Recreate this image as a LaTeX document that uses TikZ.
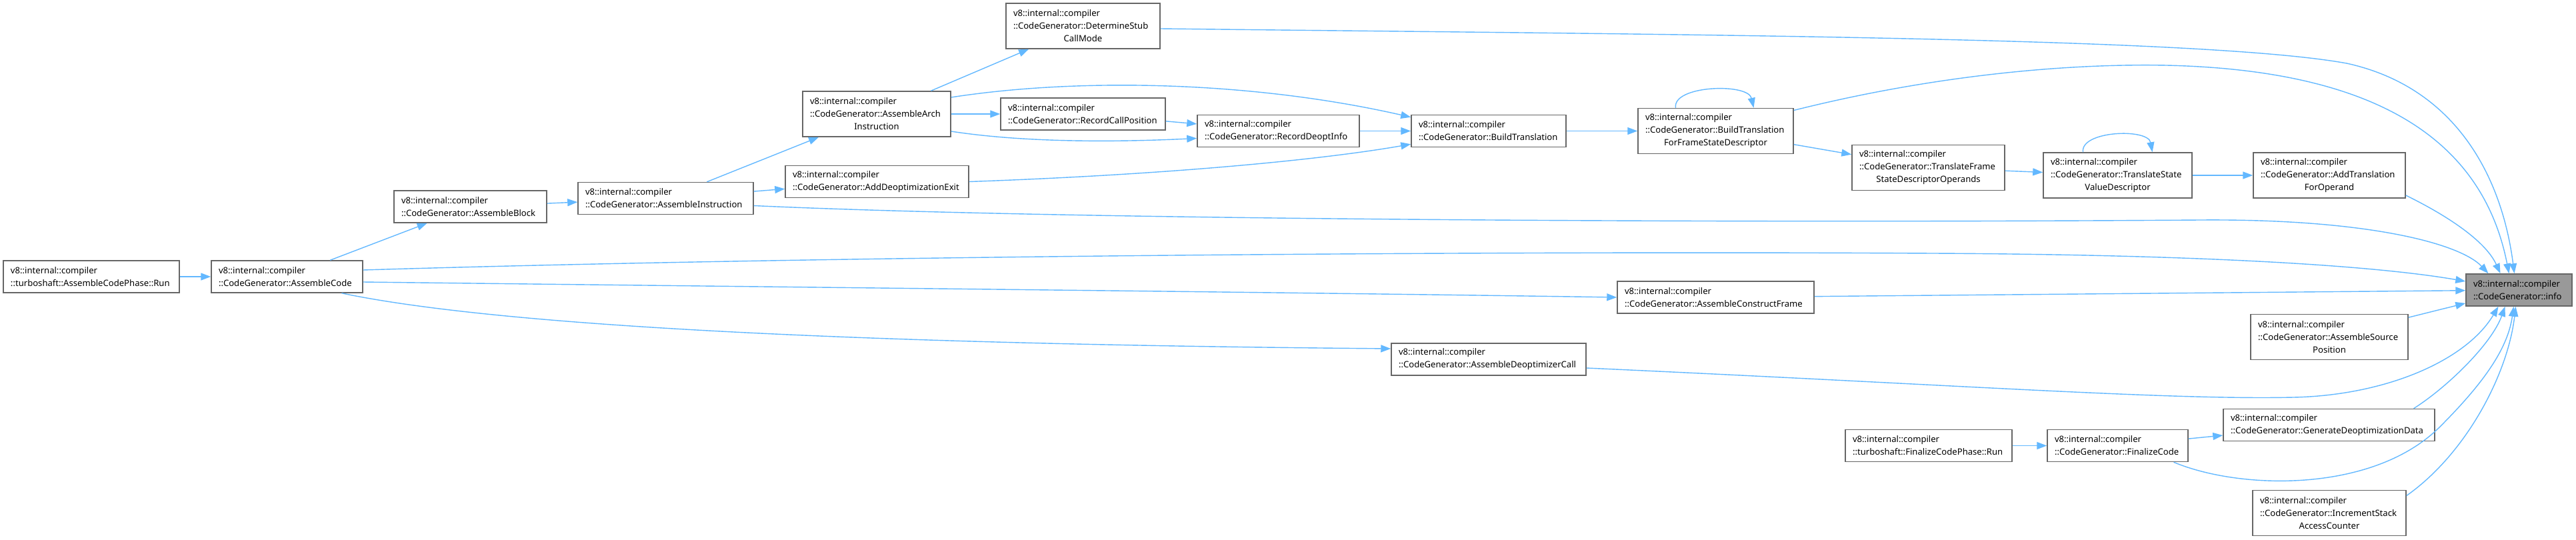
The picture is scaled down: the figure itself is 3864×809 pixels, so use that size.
\documentclass[tikz,border=0pt]{standalone}
\usepackage{fontspec}
\setmainfont{Noto Sans}
\usetikzlibrary{arrows.meta}
\definecolor{edgeblue}{HTML}{63B8FF}
\definecolor{boxgray}{HTML}{666666}
\definecolor{hlgray}{HTML}{999999}
\hyphenpenalty=10000
\newcommand{\centerpart}[1]{\hspace*{\fill}#1\hspace*{\fill}\mbox{}}
\begin{document}
\begin{tikzpicture}[
    x=1pt, y=-1pt,
    every node/.style={font=\fontsize{13.1}{19}\selectfont, align=left},
    fn/.style={rectangle, draw=boxgray, line width=1.5pt, fill=white,
               inner xsep=11pt, inner ysep=0pt, minimum height=48pt},
    fnl/.style={fn, minimum height=68pt},
    hl/.style={fn, fill=hlgray},
    arr/.style={-{Triangle[length=15pt, width=11pt]}, line width=1.4pt, edgeblue},
]
\useasboundingbox (0, 0) rectangle (3864, 809);
\node[fn, text width=242pt]  (runAsm)       at (137, 415)    {v8::internal::compiler\\::turboshaft::AssembleCodePhase::Run};
\node[fn, text width=205pt]  (asmCode)      at (430.5, 415)  {v8::internal::compiler\\::CodeGenerator::AssembleCode};
\node[fn, text width=207pt]  (asmBlock)     at (705.5, 310)  {v8::internal::compiler\\::CodeGenerator::AssembleBlock};
\node[fn, text width=241pt]  (asmInstr)     at (998.5, 297.5) {v8::internal::compiler\\::CodeGenerator::AssembleInstruction};
\node[fnl, text width=200pt] (asmArch)      at (1315, 171)   {v8::internal::compiler\\::CodeGenerator::AssembleArch\\\centerpart{Instruction}};
\node[fnl, text width=209pt] (stubMode)     at (1624.5, 39)  {v8::internal::compiler\\::CodeGenerator::DetermineStub\\\centerpart{CallMode}};
\node[fn, text width=225pt]  (recCall)      at (1624.5, 171) {v8::internal::compiler\\::CodeGenerator::RecordCallPosition};
\node[fn, text width=253pt]  (addDeopt)     at (1315.5, 272.5) {v8::internal::compiler\\::CodeGenerator::AddDeoptimizationExit};
\node[fn, text width=221pt]  (recDeopt)     at (1917.5, 196.5) {v8::internal::compiler\\::CodeGenerator::RecordDeoptInfo};
\node[fn, text width=210pt]  (buildTr)      at (2233, 196.5) {v8::internal::compiler\\::CodeGenerator::BuildTranslation};
\node[fnl, text width=211pt] (buildFS)      at (2573.5, 196.5) {v8::internal::compiler\\::CodeGenerator::BuildTranslation\\\centerpart{ForFrameStateDescriptor}};
\node[fnl, text width=207pt] (trFrame)      at (2892.5, 251.5) {v8::internal::compiler\\::CodeGenerator::TranslateFrame\\\centerpart{StateDescriptorOperands}};
\node[fnl, text width=201pt] (trState)      at (3176.5, 263) {v8::internal::compiler\\::CodeGenerator::TranslateState\\\centerpart{ValueDescriptor}};
\node[fnl, text width=206pt] (addTrOp)      at (3494, 263)   {v8::internal::compiler\\::CodeGenerator::AddTranslation\\\centerpart{ForOperand}};
\node[hl, text width=137pt]  (info)         at (3778.5, 435) {v8::internal::compiler\\::CodeGenerator::info};
\node[fnl, text width=214pt] (asmSrc)       at (3494, 505.5) {v8::internal::compiler\\::CodeGenerator::AssembleSource\\\centerpart{Position}};
\node[fn, text width=273pt]  (asmCFrame)    at (2573.5, 446) {v8::internal::compiler\\::CodeGenerator::AssembleConstructFrame};
\node[fn, text width=270pt]  (asmDeoptCall) at (2233, 539)   {v8::internal::compiler\\::CodeGenerator::AssembleDeoptimizerCall};
\node[fn, text width=295pt]  (genDeopt)     at (3493.5, 637.5) {v8::internal::compiler\\::CodeGenerator::GenerateDeoptimizationData};
\node[fn, text width=228pt]  (finRun)       at (2893, 668.5) {v8::internal::compiler\\::turboshaft::FinalizeCodePhase::Run};
\node[fn, text width=189pt]  (finCode)      at (3176.5, 668.5) {v8::internal::compiler\\::CodeGenerator::FinalizeCode};
\node[fnl, text width=208pt] (incStack)     at (3494, 769.5) {v8::internal::compiler\\::CodeGenerator::IncrementStack\\\centerpart{AccessCounter}};
\draw[arr] (runAsm) -- (asmCode);
\draw[arr] (asmCode) -- (asmBlock);
\draw[arr] (asmBlock) -- (asmInstr);
\draw[arr] (asmInstr) -- (asmArch);
\draw[arr] (asmInstr) -- (addDeopt);
\draw[arr] (asmArch) -- (stubMode);
\draw[arr] (asmArch) -- (recCall);
\draw[arr] ([yshift=-26pt]asmArch.east) .. controls (1550, 216) and (1700, 212) .. ([yshift=-11pt]recDeopt.west);
\draw[arr] ([yshift=25pt]asmArch.east) .. controls (1620, 116) and (1880, 122) .. ([yshift=-4pt]buildTr.north west);
\draw[arr] (recCall) -- (recDeopt);
\draw[arr] (recDeopt) -- (buildTr);
\draw[arr] (addDeopt.east) .. controls (1750, 262) and (1980, 240) .. ([yshift=5pt]buildTr.south west);
\draw[arr] (buildTr) -- (buildFS);
\draw[arr] ([xshift=-60pt]buildFS.north) .. controls (2508, 128) and (2622, 124) .. ([xshift=57pt]buildFS.north);
\draw[arr] (buildFS) -- (trFrame);
\draw[arr] (trFrame) -- (trState);
\draw[arr] ([xshift=-52pt]trState.north) .. controls (3120, 196) and (3222, 192) .. ([xshift=52pt]trState.north);
\draw[arr] (trState) -- (addTrOp);
\draw[arr] ([yshift=-30pt]addTrOp.east) .. controls (3680, 328) and (3730, 365) .. ([xshift=-28pt]info.north);
\draw[arr] ([yshift=-4pt]stubMode.east) .. controls (2500, 52) and (3300, 55) .. (3520, 95) .. controls (3680, 130) and (3752, 260) .. ([xshift=-7pt]info.north);
\draw[arr] ([yshift=31pt]buildFS.east) .. controls (2900, 113) and (3100, 95) .. (3250, 98) .. controls (3550, 105) and (3722, 200) .. ([xshift=-15pt]info.north);
\draw[arr] ([yshift=-11pt]asmInstr.east) .. controls (1600, 330) and (2600, 335) .. (3300, 330) .. controls (3550, 328) and (3690, 365) .. ([xshift=-46pt]info.north);
\draw[arr] ([yshift=10pt]asmCode.east) .. controls (1200, 385) and (2200, 376) .. (2900, 380) .. controls (3300, 382) and (3560, 398) .. ([yshift=13pt]info.west);
\draw[arr] ([yshift=-8pt]asmCode.east) .. controls (1200, 431) and (1900, 438) .. (asmCFrame.west);
\draw[arr] (asmCFrame) -- (info);
\draw[arr] (asmSrc) -- (info);
\draw[arr] ([xshift=82pt]asmCode.south) .. controls (800, 500) and (1500, 518) .. ([yshift=16pt]asmDeoptCall.west);
\draw[arr] ([yshift=-13pt]asmDeoptCall.east) .. controls (2950, 578) and (3250, 600) .. (3440, 596) .. controls (3580, 593) and (3700, 540) .. ([xshift=-31pt]info.south);
\draw[arr] ([xshift=127pt]genDeopt.north) .. controls (3672, 580) and (3738, 515) .. ([xshift=-21pt]info.south);
\draw[arr] ([xshift=84pt]finCode.south) .. controls (3360, 735) and (3560, 740) .. (3660, 640) .. controls (3730, 570) and (3762, 520) .. ([xshift=-8pt]info.south);
\draw[arr] ([yshift=26pt]incStack.east) .. controls (3700, 680) and (3762, 560) .. ([xshift=-5pt]info.south);
\draw[arr] (finRun) -- (finCode);
\draw[arr] (finCode) -- (genDeopt);
\end{tikzpicture}
\end{document}
